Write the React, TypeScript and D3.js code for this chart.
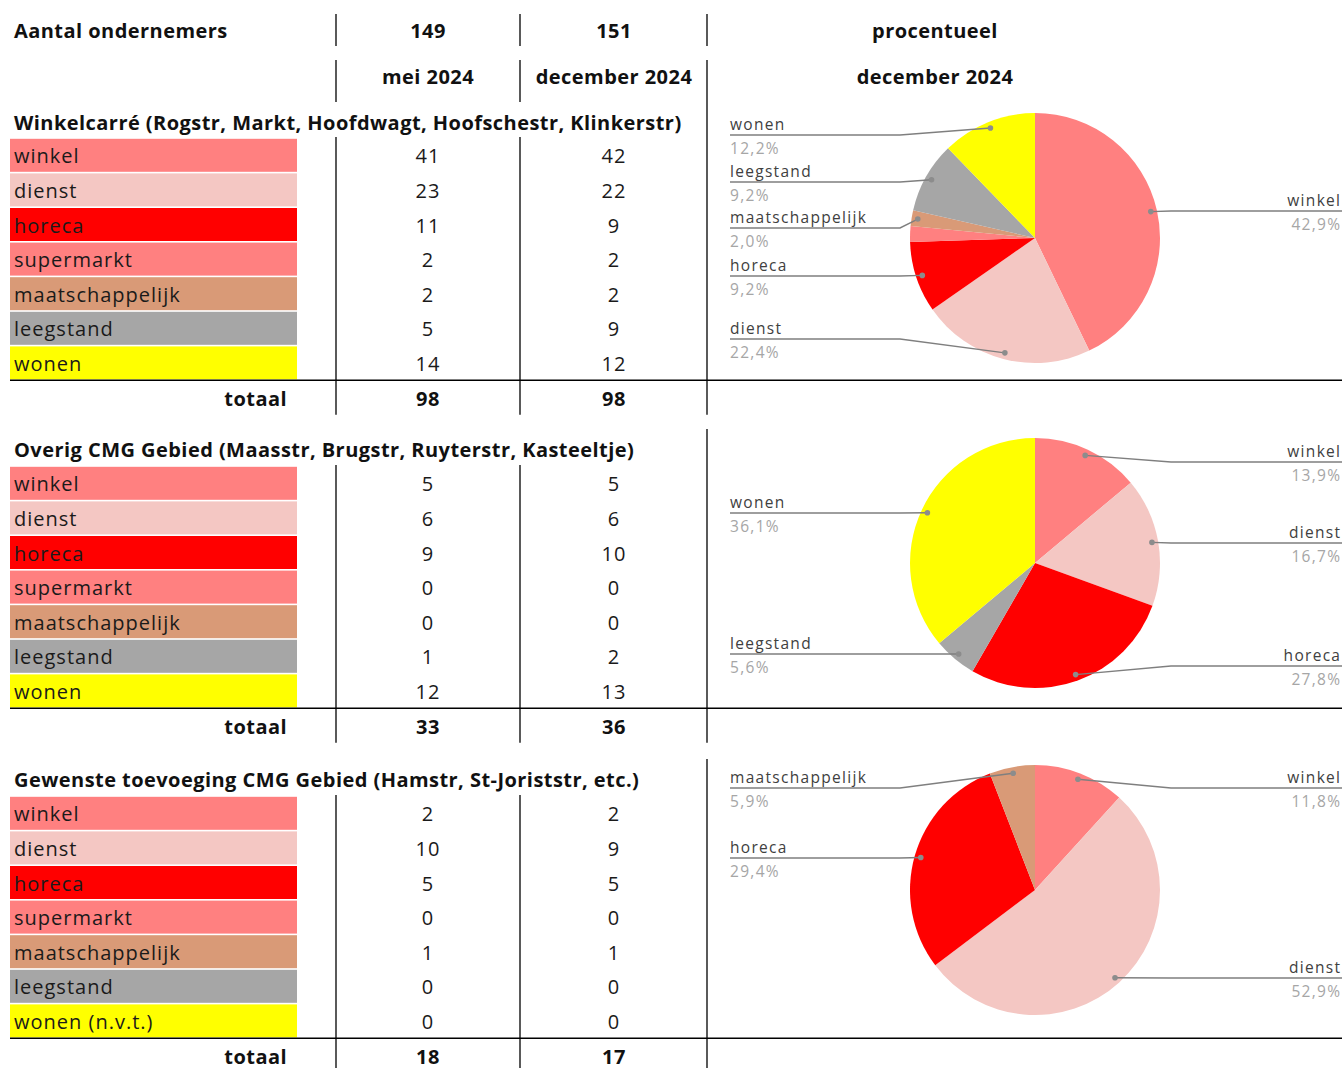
import React from "react";
import * as d3 from "d3";

// ---------- data ----------
const categories = ["winkel", "dienst", "horeca", "supermarkt", "maatschappelijk", "leegstand", "wonen"];
const categoryLabelsSection3 = ["winkel", "dienst", "horeca", "supermarkt", "maatschappelijk", "leegstand", "wonen (n.v.t.)"];
const sectionTitles = [
  "Winkelcarré (Rogstr, Markt, Hoofdwagt, Hoofschestr, Klinkerstr)",
  "Overig CMG Gebied (Maasstr, Brugstr, Ruyterstr, Kasteeltje)",
  "Gewenste toevoeging CMG Gebied (Hamstr, St-Joriststr, etc.)",
];
const headerTitle = "Aantal ondernemers";
const headerCounts = ["149", "151"];
const periodLabels = ["mei 2024", "december 2024"];
const pieHeader = ["procentueel", "december 2024"];
const totalLabel = "totaal";

const mei2024Section1 = [41, 23, 11, 2, 2, 5, 14];
const dec2024Section1 = [42, 22, 9, 2, 2, 9, 12];
const mei2024Section2 = [5, 6, 9, 0, 0, 1, 12];
const dec2024Section2 = [5, 6, 10, 0, 0, 2, 13];
const mei2024Section3 = [2, 10, 5, 0, 1, 0, 0];
const dec2024Section3 = [2, 9, 5, 0, 1, 0, 0];

// ---------- styles / layout ----------
const categoryColors = ["#FF8080", "#F4C7C3", "#FF0000", "#FF8080", "#D99A77", "#A6A6A6", "#FFFF00"];
const FONT = "'Open Sans', Lato, sans-serif";
const W = 1342;
const H = 1068;
const ROW_H = 34.6;
const colLines = [336, 520, 707];
const colCenters = [428, 614];
const pieHeaderX = 935;
const BOLD_SIZE = 20;
const BOLD_LS = 0.45;
const BODY_SIZE = 20;
const BODY_LS = 1.0;
const PIE_LABEL_SIZE = 15.5;
const PIE_LS = 1.3;

// label layout per section: which slice, which side, y of leader underline
const labelLayouts = [
  [
    { cat: 6, side: "L", y: 135 },
    { cat: 5, side: "L", y: 182 },
    { cat: 4, side: "L", y: 228 },
    { cat: 2, side: "L", y: 276 },
    { cat: 1, side: "L", y: 339 },
    { cat: 0, side: "R", y: 211 },
  ],
  [
    { cat: 0, side: "R", y: 462 },
    { cat: 1, side: "R", y: 543 },
    { cat: 2, side: "R", y: 666 },
    { cat: 6, side: "L", y: 513 },
    { cat: 5, side: "L", y: 654 },
  ],
  [
    { cat: 4, side: "L", y: 788 },
    { cat: 0, side: "R", y: 788 },
    { cat: 2, side: "L", y: 858 },
    { cat: 1, side: "R", y: 978 },
  ],
];

const sections = [
  { title: sectionTitles[0], labels: categories, mei: mei2024Section1, dec: dec2024Section1, titleY: 123, rowTop: 138, vTop: 430, pieCy: 238 },
  { title: sectionTitles[1], labels: categories, mei: mei2024Section2, dec: dec2024Section2, titleY: 450, rowTop: 466, vTop: 429, pieCy: 563 },
  { title: sectionTitles[2], labels: categoryLabelsSection3, mei: mei2024Section3, dec: dec2024Section3, titleY: 780, rowTop: 796, vTop: 759, pieCy: 890 },
];

const PIE_CX = 1035;
const PIE_R = 125;

function fmtPct(v: number, total: number) {
  return (Math.round((v / total) * 1000) / 10).toFixed(1).replace(".", ",") + "%";
}

const boldProps = { fontFamily: FONT, fontWeight: "bold", fontSize: BOLD_SIZE, fill: "#111", letterSpacing: BOLD_LS };
const bodyProps = { fontFamily: FONT, fontSize: BODY_SIZE, fill: "#1a1a1a", letterSpacing: BODY_LS };

function Section({ s, idx }: { s: any; idx: number }) {
  const rowY = d3.scaleLinear().domain([0, 1]).range([s.rowTop, s.rowTop + ROW_H]);
  const n = s.labels.length;
  const totalMei = d3.sum(s.mei as number[]);
  const totalDec = d3.sum(s.dec as number[]);
  const totalTop = rowY(n);
  const pie = d3.pie<number>().sort(null).value((d) => d)(s.dec);
  const arc = d3.arc<d3.PieArcDatum<number>>().innerRadius(0).outerRadius(PIE_R);
  const cy = s.pieCy;
  const ty = (i: number) => rowY(i) + ROW_H / 2 + 8;

  return (
    <g>
      {/* section title */}
      <text x={14} y={s.titleY + 7} {...boldProps}>
        {s.title}
      </text>
      {/* rows */}
      {s.labels.map((lab: string, i: number) => (
        <g key={i}>
          <rect x={10} y={rowY(i) + 0.8} width={287} height={ROW_H - 1.6} fill={categoryColors[i]} />
          <text x={14} y={ty(i)} {...bodyProps}>
            {lab}
          </text>
          <text x={colCenters[0]} y={ty(i)} textAnchor="middle" {...bodyProps}>
            {s.mei[i]}
          </text>
          <text x={colCenters[1]} y={ty(i)} textAnchor="middle" {...bodyProps}>
            {s.dec[i]}
          </text>
        </g>
      ))}
      {/* total row */}
      <text x={287} y={ty(n)} textAnchor="end" {...boldProps}>
        {totalLabel}
      </text>
      <text x={colCenters[0]} y={ty(n)} textAnchor="middle" {...boldProps}>
        {totalMei}
      </text>
      <text x={colCenters[1]} y={ty(n)} textAnchor="middle" {...boldProps}>
        {totalDec}
      </text>
      {/* lines */}
      <line x1={10} x2={W} y1={totalTop} y2={totalTop} stroke="#000" strokeWidth={1.6} />
      {colLines.slice(0, 2).map((x) => (
        <line key={x} x1={x} x2={x} y1={s.rowTop - 1} y2={Math.min(totalTop + ROW_H, H)} stroke="#000" strokeWidth={1.3} />
      ))}
      <line x1={colLines[2]} x2={colLines[2]} y1={idx === 0 ? 60 : s.vTop} y2={Math.min(totalTop + ROW_H, H)} stroke="#000" strokeWidth={1.3} />
      {/* pie */}
      <g transform={`translate(${PIE_CX},${cy})`}>
        {pie.map((p, i) => (p.value > 0 ? <path key={i} d={arc(p) as string} fill={categoryColors[i]} /> : null))}
      </g>
      {/* labels */}
      {labelLayouts[idx].map((L, k) => {
        const p = pie[L.cat];
        const mid = (p.startAngle + p.endAngle) / 2;
        const dx = PIE_CX + 0.95 * PIE_R * Math.sin(mid);
        const dy = cy - 0.95 * PIE_R * Math.cos(mid);
        const name = categories[L.cat];
        const pct = fmtPct(s.dec[L.cat], totalDec);
        let pts: [number, number][];
        if (L.side === "L") {
          const ex = Math.min(900, dx);
          pts = [[730, L.y], [ex, L.y], [dx, dy]];
        } else {
          const ex = Math.max(1171, dx);
          pts = [[W, L.y], [ex, L.y], [dx, dy]];
        }
        const tx = L.side === "L" ? 730 : 1340 + PIE_LS;
        const anchor = L.side === "L" ? "start" : "end";
        return (
          <g key={k}>
            <path d={d3.line()(pts) as string} fill="none" stroke="#7f7f7f" strokeWidth={1.4} />
            <circle cx={dx} cy={dy} r={2.8} fill="#8c8c8c" />
            <text x={tx} y={L.y - 5} textAnchor={anchor} fontFamily={FONT} fontSize={PIE_LABEL_SIZE} letterSpacing={PIE_LS} fill="#404040">
              {name}
            </text>
            <text x={tx} y={L.y + 19} textAnchor={anchor} fontFamily={FONT} fontSize={PIE_LABEL_SIZE} letterSpacing={PIE_LS} fill="#a6a6a6">
              {pct}
            </text>
          </g>
        );
      })}
    </g>
  );
}

export default function App() {
  return (
    <svg width={W} height={H} style={{ position: "absolute", left: 0, top: 0, background: "#fff" }}>
      <rect x={0} y={0} width={W} height={H} fill="#fff" />
      {/* header */}
      <text x={14} y={38} {...boldProps}>
        {headerTitle}
      </text>
      {headerCounts.map((c, i) => (
        <text key={i} x={colCenters[i]} y={38} textAnchor="middle" {...boldProps}>
          {c}
        </text>
      ))}
      {periodLabels.map((c, i) => (
        <text key={i} x={colCenters[i]} y={84} textAnchor="middle" {...boldProps}>
          {c}
        </text>
      ))}
      {pieHeader.map((c, i) => (
        <text key={i} x={pieHeaderX} y={38 + i * 46} textAnchor="middle" {...boldProps}>
          {c}
        </text>
      ))}
      {colLines.map((x) => (
        <line key={x} x1={x} x2={x} y1={14} y2={46} stroke="#000" strokeWidth={1.3} />
      ))}
      {colLines.slice(0, 2).map((x) => (
        <line key={x} x1={x} x2={x} y1={60} y2={102} stroke="#000" strokeWidth={1.3} />
      ))}
      {sections.map((s, i) => (
        <Section key={i} s={s} idx={i} />
      ))}
    </svg>
  );
}
